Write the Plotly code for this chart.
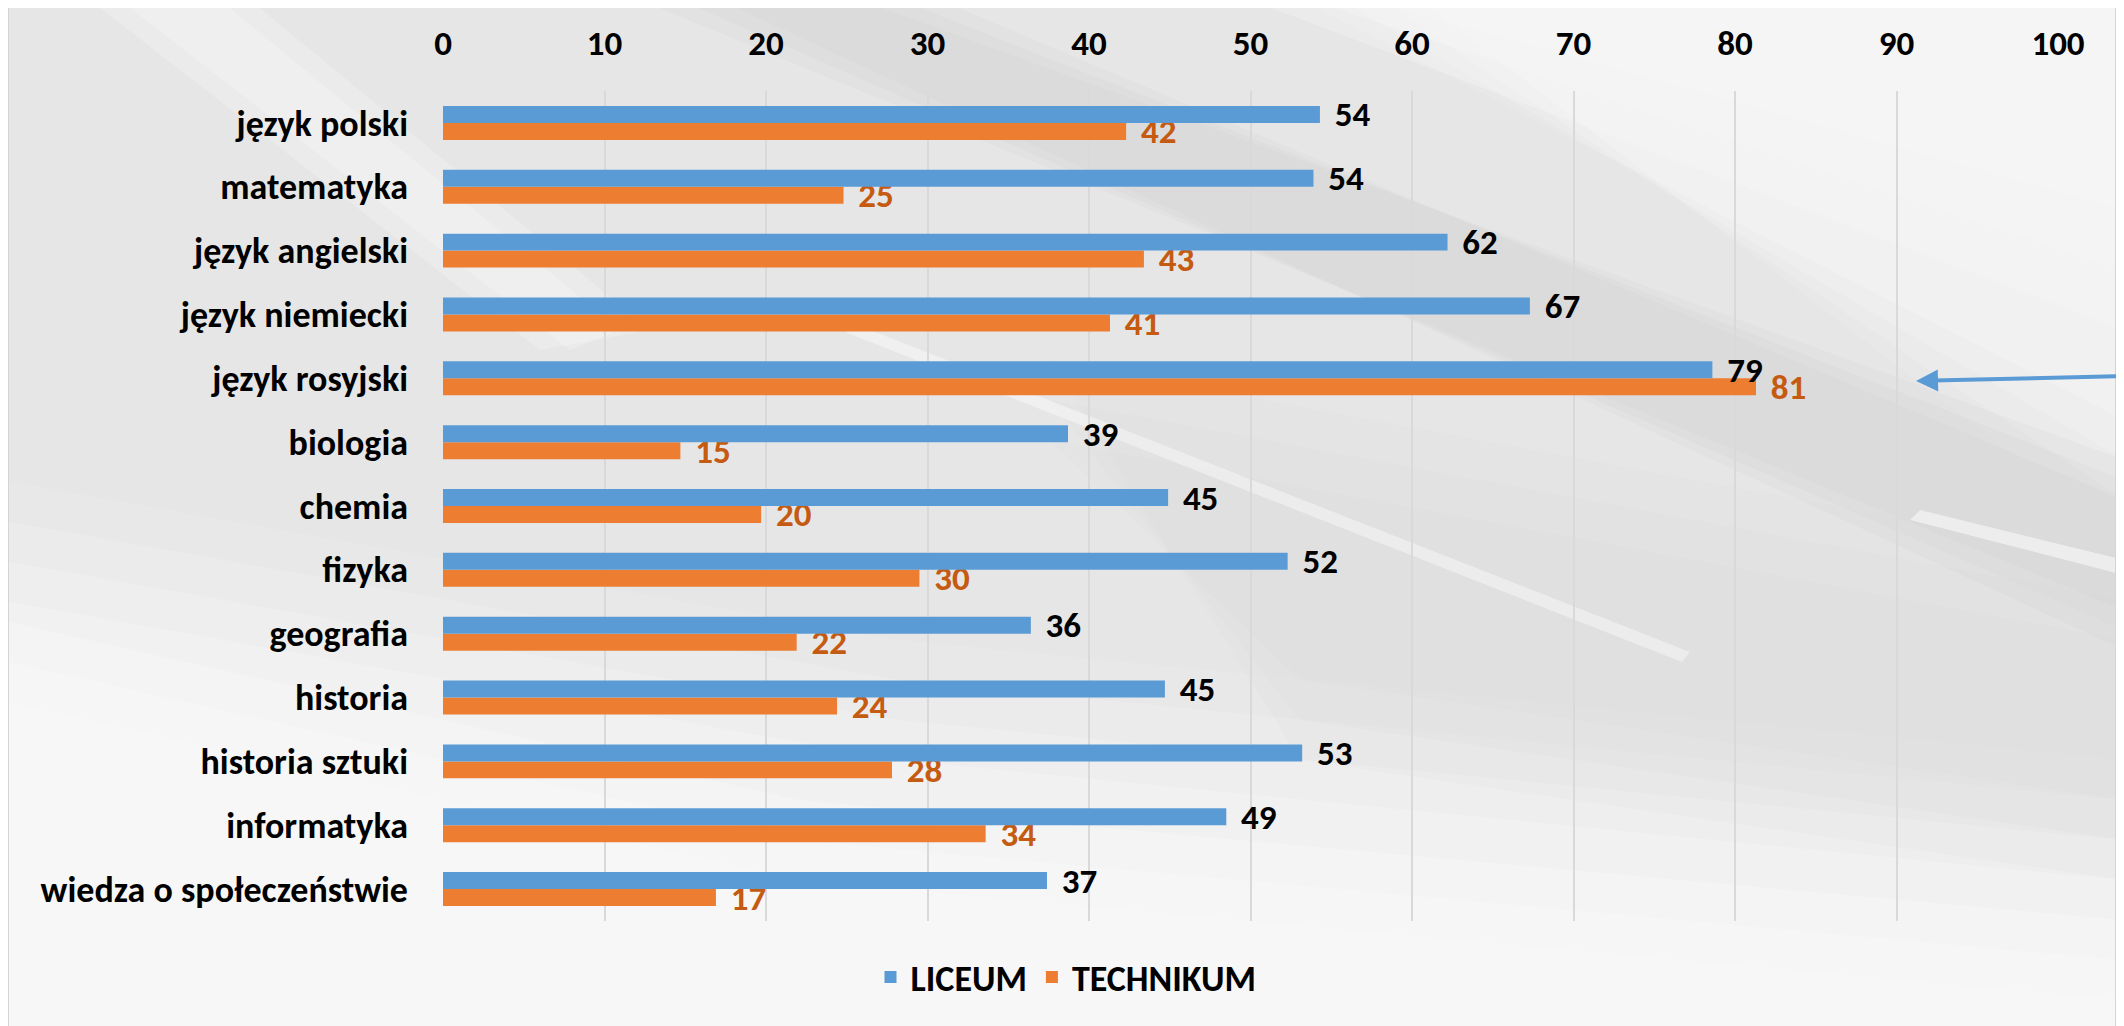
import plotly.graph_objects as go

categories = ["język polski", "matematyka", "język angielski", "język niemiecki",
              "język rosyjski", "biologia", "chemia", "fizyka", "geografia",
              "historia", "historia sztuki", "informatyka", "wiedza o społeczeństwie"]
liceum = [54.3, 53.9, 62.2, 67.3, 78.6, 38.7, 44.9, 52.3, 36.4, 44.7, 53.2, 48.5, 37.4]
technikum = [42.3, 24.8, 43.4, 41.3, 81.3, 14.7, 19.7, 29.5, 21.9, 24.4, 27.8, 33.6, 16.9]
x_ticks = [0, 10, 20, 30, 40, 50, 60, 70, 80, 90, 100]

# page body has an 8px margin: figure pixel = screen pixel - 8
OFF = 8
W, H = 2124 - OFF, 1026 - OFF
L, T = 443 - OFF, 91 - OFF
PW, PH = 1615, 830
R, B = W - L - PW, H - T - PH

FONT = "Carlito, Lato, 'Open Sans', sans-serif"
BLUE, ORANGE, ORANGE_TXT = "#5B9BD5", "#ED7D31", "#C55A11"


def px(sx, sy):
    """screen pixel -> paper coordinates"""
    x, y = sx - OFF, sy - OFF
    return (x - L) / PW, (H - B - y) / PH


def poly(points):
    pts = [px(a, b) for a, b in points]
    return "M" + " L".join(f"{a:.4f},{b:.4f}" for a, b in pts) + " Z"


BW = 0.266
SP = "\u2004"

fig = go.Figure()
fig.add_trace(go.Bar(
    name="TECHNIKUM", y=categories, x=technikum, orientation="h",
    marker=dict(color=ORANGE, line=dict(width=0)),
    offset=0.0, width=BW,
    texttemplate=SP + "%{x:.0f}", textposition="outside", constraintext="none",
    textfont=dict(family=FONT, size=35, color=ORANGE_TXT, weight="bold"),
    cliponaxis=False, hoverinfo="x+y",
))
fig.add_trace(go.Bar(
    name="LICEUM", y=categories, x=liceum, orientation="h",
    marker=dict(color=BLUE, line=dict(width=0)),
    offset=-BW, width=BW,
    texttemplate=SP + "%{x:.0f}", textposition="outside", constraintext="none",
    textfont=dict(family=FONT, size=35, color="#000000", weight="bold"),
    cliponaxis=False, hoverinfo="x+y",
))

shapes = []


def soft(points_list, col, op):
    for pts in points_list:
        shapes.append(dict(type="path", xref="paper", yref="paper", path=poly(pts),
                           fillcolor=col, opacity=op, line=dict(width=0), layer="below"))


# background photo approximation (pen lying on a light gray surface), soft layered bands
soft([[(0, 0), (1300 + d, 0), (2124, 420 + d), (2124, 760 + d), (900, 640 + d), (0, 480 + d)]
      for d in (0, 40, 80, 120)], "#dedede", 0.14)
soft([[(1250 + d, 0), (2124, 0), (2124, 330 - d)] for d in (0, 60, 120)], "#f8f8f8", 0.3)
soft([[(640 + d, 0), (940 - d, 0), (2124, 500 - d // 2), (2124, 610 + d // 2)]
      for d in (0, 40, 80)], "#c8c8c8", 0.12)
soft([[(1050, 360 + d), (2124, 560 + d), (2124, 880 - d), (1300, 760 - d)]
      for d in (0, 40, 80)], "#d4d4d4", 0.12)
soft([[(0, 620 + d), (800, 800 + d), (2124, 920 + d), (2124, 1026), (0, 1026)]
      for d in (0, 40, 80)], "#fafafa", 0.35)
soft([[(90 + d, 0), (250 - d, 0), (650 - d, 330), (540 + d, 350)] for d in (0, 30)], "#ffffff", 0.22)
soft([[(845, 332), (855, 324), (1690, 652), (1682, 662)]], "#ffffff", 0.4)
soft([[(1910, 520), (1920, 510), (2124, 560), (2124, 575)]], "#ffffff", 0.5)

# chart area border
bx0, by0 = px(8, 3)
bx1, by1 = px(2116, 1100)
shapes.append(dict(type="rect", xref="paper", yref="paper", x0=bx0, y0=by1, x1=bx1, y1=by0,
                   line=dict(color="#d4d4d4", width=2), fillcolor="rgba(0,0,0,0)", layer="below"))

tip_x, tip_y = px(1916, 381)
fig.update_layout(
    width=W, height=H,
    margin=dict(l=L, r=R, t=T, b=B),
    paper_bgcolor="#f1f1f1",
    plot_bgcolor="rgba(0,0,0,0)",
    barmode="overlay",
    font=dict(family=FONT, color="#000000"),
    shapes=shapes,
    xaxis=dict(
        side="top", range=[0, 100], tickvals=x_ticks, ticktext=[str(v) for v in x_ticks],
        showgrid=True, gridcolor="#d9d9d9", gridwidth=1.5, zeroline=False, showline=False,
        ticks="", ticklabelstandoff=28,
        tickfont=dict(family=FONT, size=35, color="#000000", weight="bold"),
        fixedrange=True,
    ),
    yaxis=dict(
        type="category", categoryorder="array", categoryarray=categories,
        range=[12.5, -0.5], showgrid=False, zeroline=False, showline=False, ticks="",
        ticklabelstandoff=34,
        tickfont=dict(family=FONT, size=36, color="#000000", weight="bold"),
        fixedrange=True,
    ),
    showlegend=True,
    legend=dict(
        orientation="h", traceorder="reversed",
        xref="container", yref="container", x=0.5, xanchor="center",
        y=1 - (977 - OFF) / H, yanchor="middle",
        font=dict(family=FONT, size=36, color="#000000", weight="bold"),
        bgcolor="rgba(0,0,0,0)", itemwidth=30,
    ),
    annotations=[dict(
        xref="paper", yref="paper", x=tip_x, y=tip_y,
        axref="pixel", ayref="pixel", ax=215, ay=-5,
        text="", showarrow=True, arrowhead=2, arrowsize=1.1, arrowwidth=4,
        arrowcolor=BLUE, standoff=0,
    )],
)

fig.write_html("out.html")
